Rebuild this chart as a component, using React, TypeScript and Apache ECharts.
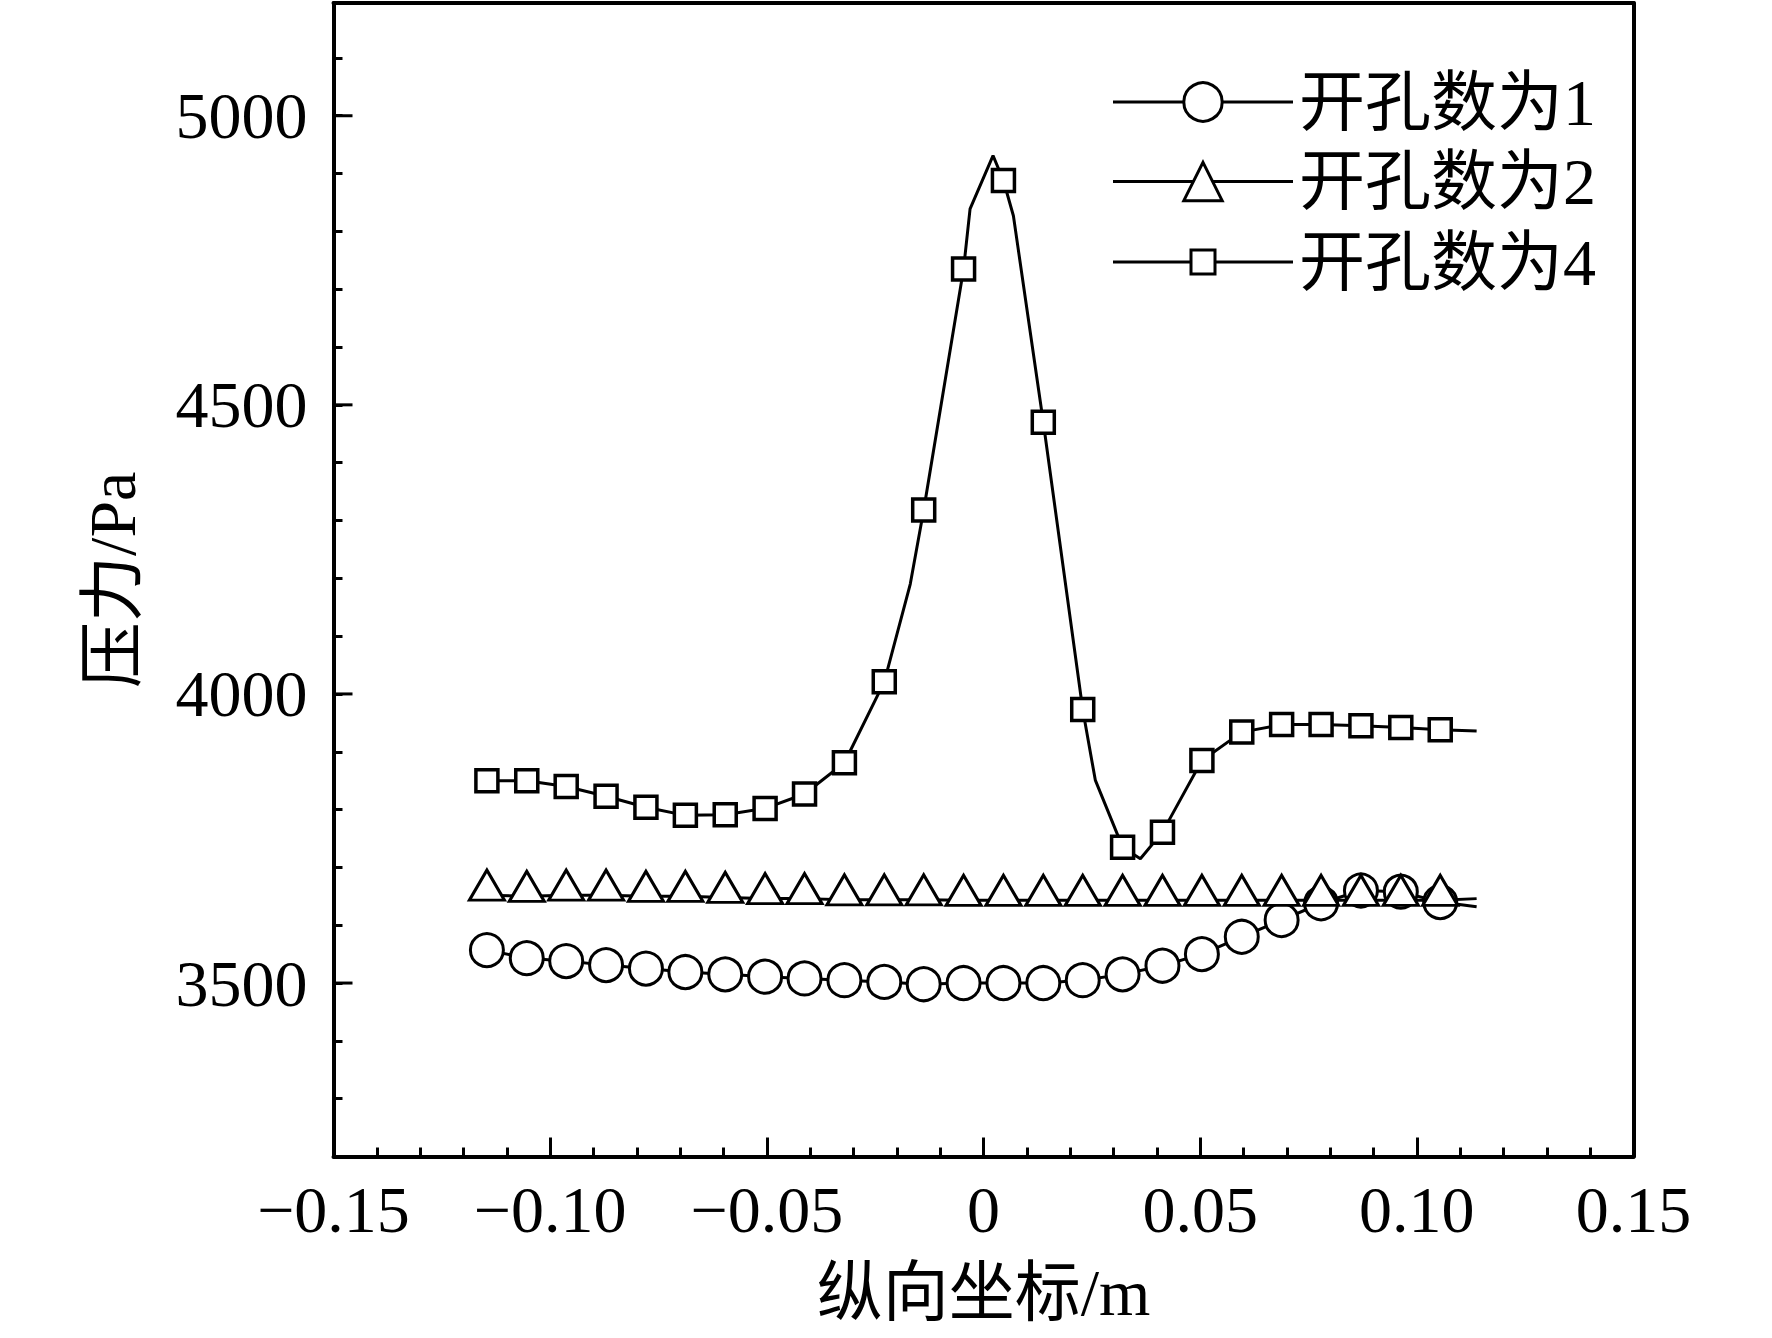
import React, { useEffect, useRef } from "react";
import * as echarts from "echarts";

// Marker positions along the longitudinal coordinate (m)
const xPositions = [
  -0.1146, -0.1054, -0.0963, -0.0871, -0.0779, -0.0688, -0.0596, -0.0504,
  -0.0413, -0.0321, -0.0229, -0.0138, -0.0046, 0.0046, 0.0138, 0.0229,
  0.0321, 0.0413, 0.0504, 0.0596, 0.0688, 0.0779, 0.0871, 0.0963, 0.1054,
];
const lineEndX = 0.1138;

const seriesNames = ["开孔数为1", "开孔数为2", "开孔数为4"];

// Pressure (Pa) at the markers
const pressure1 = [
  3557, 3543, 3538, 3531, 3525, 3519, 3515, 3511, 3508, 3505, 3502, 3498,
  3500, 3500, 3500, 3505, 3515, 3530, 3550, 3580, 3609, 3638, 3660, 3658, 3640,
];
const pressure1End = 3632;

const pressure2 = [
  3652, 3650, 3652, 3652, 3650, 3650, 3648, 3646, 3646, 3644, 3644, 3644,
  3643, 3643, 3643, 3643, 3643, 3643, 3643, 3643, 3643, 3643, 3643, 3643, 3643,
];
const pressure2End = 3646;

const pressure4 = [
  3850, 3850, 3840, 3823, 3804, 3790, 3791, 3802, 3827, 3881, 4021, 4318,
  4735, 4888, 4470, 3973, 3735, 3761, 3885, 3934, 3947, 3947, 3945, 3942, 3938,
];
const pressure4End = 3936;
// curve points between markers (no symbol)
const pressure4ExtraX = [-0.0169, -0.0031, 0.0022, 0.0069, 0.0258, 0.0362];
const pressure4ExtraY = [4190, 4839, 4931, 4827, 3851, 3715];

// Axes
const xMin = -0.15;
const xMax = 0.15;
const xInterval = 0.05;
const yMin = 3200;
const yMax = 5195;
const yMinorInterval = 100;
const yMajorTicks = [3500, 4000, 4500, 5000];

const serif = "'Liberation Serif', 'Times New Roman', 'Noto Sans CJK SC', serif";

function buildData(ys: number[], endY: number, extraX: number[] = [], extraY: number[] = []) {
  const pts: any[] = xPositions.map((x, i) => ({ value: [x, ys[i]] }));
  extraX.forEach((x, i) => pts.push({ value: [x, extraY[i]], symbol: "none" }));
  pts.push({ value: [lineEndX, endY], symbol: "none" });
  pts.sort((a, b) => a.value[0] - b.value[0]);
  return pts;
}

export default function App() {
  const ref = useRef<HTMLDivElement>(null);

  useEffect(() => {
    if (!ref.current) return;
    const chart = echarts.init(ref.current, undefined, { renderer: "svg" });

    const frameLine = { color: "#000", width: 4 };
    const tickLine = { color: "#000", width: 3 };

    const legendBase = {
      orient: "vertical" as const,
      left: 1111.5,
      padding: 0,
      itemWidth: 180,
      selectedMode: false,
      lineStyle: { width: 3 },
      itemStyle: { borderWidth: 3 },
      textStyle: {
        fontSize: 66,
        lineHeight: 66,
        fontFamily: serif,
        color: "#000",
        padding: [0, 0, 0, 1],
      },
    };

    const option: any = {
      animation: false,
      backgroundColor: "#fff",
      grid: { left: 333.5, right: 138.5, top: 3, bottom: 181.5, containLabel: false },
      xAxis: [
        {
          type: "value",
          min: xMin,
          max: xMax,
          interval: xInterval,
          position: "bottom",
          axisLine: { show: true, onZero: false, lineStyle: frameLine },
          axisTick: { show: true, inside: true, length: 19, lineStyle: tickLine },
          minorTick: { show: true, splitNumber: 5, length: 9, lineStyle: tickLine },
          splitLine: { show: false },
          minorSplitLine: { show: false },
          axisLabel: {
            margin: 20,
            fontSize: 66,
            fontFamily: serif,
            color: "#000",
            formatter: (v: number) => {
              const r = Math.round(v * 100) / 100;
              if (r === 0) return "0";
              return (r < 0 ? "\u2212" : "") + Math.abs(r).toFixed(2);
            },
          },
          name: "纵向坐标/m",
          nameLocation: "middle",
          nameGap: 103,
          nameTextStyle: { fontSize: 66, fontFamily: serif, color: "#000" },
        },
        {
          type: "value",
          min: xMin,
          max: xMax,
          position: "top",
          axisLine: { show: true, onZero: false, lineStyle: frameLine },
          axisTick: { show: false },
          axisLabel: { show: false },
          splitLine: { show: false },
        },
      ],
      yAxis: [
        {
          type: "value",
          min: yMin,
          max: yMax,
          interval: yMinorInterval,
          position: "left",
          axisLine: { show: true, onZero: false, lineStyle: frameLine },
          axisTick: { show: true, inside: true, length: 9, lineStyle: tickLine },
          splitLine: { show: false },
          axisLabel: {
            margin: 26,
            fontSize: 66,
            fontFamily: serif,
            color: "#000",
            formatter: (v: number) => (yMajorTicks.indexOf(Math.round(v)) >= 0 ? String(Math.round(v)) : ""),
          },
          name: "压力/Pa",
          nameLocation: "middle",
          nameGap: 188,
          nameRotate: 90,
          nameTextStyle: { fontSize: 66, fontFamily: serif, color: "#000" },
        },
        {
          type: "value",
          min: yMin,
          max: yMax,
          position: "right",
          axisLine: { show: true, onZero: false, lineStyle: frameLine },
          axisTick: { show: false },
          axisLabel: { show: false },
          splitLine: { show: false },
        },
      ],
      legend: [
        { ...legendBase, data: [seriesNames[0]], top: 102 - 33, itemHeight: 48 },
        { ...legendBase, data: [seriesNames[1]], top: 181.5 - 33, itemHeight: 48 },
        { ...legendBase, data: [seriesNames[2]], top: 262 - 33, itemHeight: 30 },
      ],
      series: [
        {
          name: seriesNames[0],
          type: "line",
          data: buildData(pressure1, pressure1End),
          symbol: "circle",
          symbolSize: 33,
          showSymbol: true,
          lineStyle: { color: "#000", width: 3 },
          itemStyle: { color: "#fff", borderColor: "#000", borderWidth: 3 },
          z: 3,
        },
        {
          name: seriesNames[1],
          type: "line",
          data: buildData(pressure2, pressure2End),
          symbol: "triangle",
          symbolSize: [35, 30],
          symbolOffset: [0, -10],
          showSymbol: true,
          lineStyle: { color: "#000", width: 3 },
          itemStyle: { color: "#fff", borderColor: "#000", borderWidth: 3 },
          z: 4,
        },
        {
          name: seriesNames[2],
          type: "line",
          data: buildData(pressure4, pressure4End, pressure4ExtraX, pressure4ExtraY),
          symbol: "rect",
          symbolSize: 22,
          showSymbol: true,
          lineStyle: { color: "#000", width: 3 },
          itemStyle: { color: "#fff", borderColor: "#000", borderWidth: 3.5 },
          z: 5,
        },
        {
          name: "yMajorTicks",
          type: "custom",
          silent: true,
          clip: false,
          xAxisIndex: 0,
          yAxisIndex: 0,
          data: yMajorTicks.map((v) => [xMin, v]),
          renderItem: (_params: any, api: any) => {
            const p = api.coord([api.value(0), api.value(1)]);
            return {
              type: "line",
              shape: { x1: p[0], y1: p[1], x2: p[0] + 19, y2: p[1] },
              style: { stroke: "#000", lineWidth: 3 },
            };
          },
          z: 6,
        },
      ],
    };

    chart.setOption(option);
    return () => chart.dispose();
  }, []);

  return (
    <div
      ref={ref}
      style={{ position: "fixed", left: 0, top: 0, width: 1772, height: 1338, background: "#fff" }}
    />
  );
}
